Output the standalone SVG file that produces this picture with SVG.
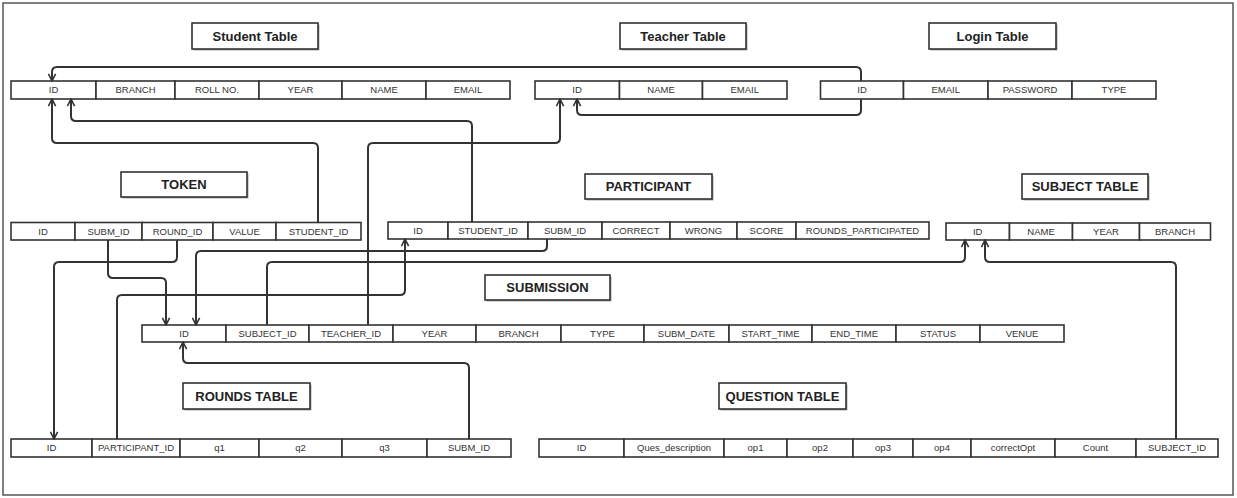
<svg xmlns="http://www.w3.org/2000/svg" width="1237" height="498" viewBox="0 0 1237 498">
<style>
.bg{fill:#fff}
.frame{fill:#fff;stroke:#555;stroke-width:1.5}
.c{fill:#fff;stroke:#333;stroke-width:1.6}
.sh{fill:#aaa}
.t{font-family:"Liberation Sans",Arial,sans-serif;font-size:9.5px;fill:#333;text-anchor:middle}
.h{font-family:"Liberation Sans",Arial,sans-serif;font-size:13px;font-weight:bold;fill:#222;text-anchor:middle}
.tb{fill:#fff;stroke:#333;stroke-width:1.6}
.e{fill:none;stroke:#333;stroke-width:2;marker-end:url(#arr)}
</style>
<defs>
<marker id="arr" viewBox="0 0 10 10" refX="9" refY="5" markerWidth="9" markerHeight="9" markerUnits="userSpaceOnUse" orient="auto">
<path d="M1,1 L9,5 L1,9" fill="none" stroke="#333" stroke-width="1.8"/>
</marker>
</defs>
<rect class="bg" x="0" y="0" width="1237" height="498"/>
<rect class="frame" x="3" y="3" width="1230" height="492"/>

<g id="titles">
<g id="title-student"><rect class="sh" x="193.5" y="24.5" width="126" height="26"/><rect class="tb" x="192" y="23" width="126" height="26"/><text class="h" x="255" y="40.5">Student Table</text></g>
<g id="title-teacher"><rect class="sh" x="621.5" y="24.5" width="126" height="26"/><rect class="tb" x="620" y="23" width="126" height="26"/><text class="h" x="683" y="40.5">Teacher Table</text></g>
<g id="title-login"><rect class="sh" x="930.5" y="24.5" width="127" height="26"/><rect class="tb" x="929" y="23" width="127" height="26"/><text class="h" x="992.5" y="40.5">Login Table</text></g>
<g id="title-token"><rect class="sh" x="122.5" y="173.5" width="126" height="25"/><rect class="tb" x="121" y="172" width="126" height="25"/><text class="h" x="184" y="189">TOKEN</text></g>
<g id="title-participant"><rect class="sh" x="586.5" y="175.5" width="127" height="25"/><rect class="tb" x="585" y="174" width="127" height="25"/><text class="h" x="648.5" y="191">PARTICIPANT</text></g>
<g id="title-subject"><rect class="sh" x="1023.5" y="175.5" width="126" height="25"/><rect class="tb" x="1022" y="174" width="126" height="25"/><text class="h" x="1085" y="191">SUBJECT TABLE</text></g>
<g id="title-submission"><rect class="sh" x="486.5" y="276.5" width="125" height="25"/><rect class="tb" x="485" y="275" width="125" height="25"/><text class="h" x="547.5" y="292">SUBMISSION</text></g>
<g id="title-rounds"><rect class="sh" x="184.5" y="384.5" width="127" height="26"/><rect class="tb" x="183" y="383" width="127" height="26"/><text class="h" x="246.5" y="400.5">ROUNDS TABLE</text></g>
<g id="title-question"><rect class="sh" x="720.5" y="384.5" width="127" height="26"/><rect class="tb" x="719" y="383" width="127" height="26"/><text class="h" x="782.5" y="400.5">QUESTION TABLE</text></g>
</g>

<g id="student">
<rect class="c" x="11" y="81" width="85" height="18"/><text class="t" x="53.5" y="93.3">ID</text>
<rect class="c" x="96" y="81" width="79" height="18"/><text class="t" x="135.5" y="93.3">BRANCH</text>
<rect class="c" x="175" y="81" width="84" height="18"/><text class="t" x="217" y="93.3">ROLL NO.</text>
<rect class="c" x="259" y="81" width="83" height="18"/><text class="t" x="300.5" y="93.3">YEAR</text>
<rect class="c" x="342" y="81" width="84" height="18"/><text class="t" x="384" y="93.3">NAME</text>
<rect class="c" x="426" y="81" width="84" height="18"/><text class="t" x="468" y="93.3">EMAIL</text>
</g>

<g id="teacher">
<rect class="c" x="535" y="81" width="84.5" height="18"/><text class="t" x="577" y="93.3">ID</text>
<rect class="c" x="619.5" y="81" width="83" height="18"/><text class="t" x="661" y="93.3">NAME</text>
<rect class="c" x="702.5" y="81" width="84.5" height="18"/><text class="t" x="744.7" y="93.3">EMAIL</text>
</g>

<g id="login">
<rect class="c" x="820.5" y="81" width="83" height="18"/><text class="t" x="862" y="93.3">ID</text>
<rect class="c" x="903.5" y="81" width="84.5" height="18"/><text class="t" x="945.7" y="93.3">EMAIL</text>
<rect class="c" x="988" y="81" width="84" height="18"/><text class="t" x="1030" y="93.3">PASSWORD</text>
<rect class="c" x="1072" y="81" width="84" height="18"/><text class="t" x="1114" y="93.3">TYPE</text>
</g>

<g id="token">
<rect class="c" x="11" y="222.5" width="64" height="17.5"/><text class="t" x="43" y="234.6">ID</text>
<rect class="c" x="75" y="222.5" width="67" height="17.5"/><text class="t" x="108.5" y="234.6">SUBM_ID</text>
<rect class="c" x="142" y="222.5" width="71" height="17.5"/><text class="t" x="177.5" y="234.6">ROUND_ID</text>
<rect class="c" x="213" y="222.5" width="63" height="17.5"/><text class="t" x="244.5" y="234.6">VALUE</text>
<rect class="c" x="276" y="222.5" width="85" height="17.5"/><text class="t" x="318.5" y="234.6">STUDENT_ID</text>
</g>

<g id="participant">
<rect class="c" x="388" y="222" width="60" height="17"/><text class="t" x="418" y="233.8">ID</text>
<rect class="c" x="448" y="222" width="80" height="17"/><text class="t" x="488" y="233.8">STUDENT_ID</text>
<rect class="c" x="528" y="222" width="74" height="17"/><text class="t" x="565" y="233.8">SUBM_ID</text>
<rect class="c" x="602" y="222" width="68" height="17"/><text class="t" x="636" y="233.8">CORRECT</text>
<rect class="c" x="670" y="222" width="67" height="17"/><text class="t" x="703.5" y="233.8">WRONG</text>
<rect class="c" x="737" y="222" width="59" height="17"/><text class="t" x="766.5" y="233.8">SCORE</text>
<rect class="c" x="796" y="222" width="133" height="17"/><text class="t" x="862.5" y="233.8">ROUNDS_PARTICIPATED</text>
</g>

<g id="subject">
<rect class="c" x="946" y="223" width="63.5" height="17"/><text class="t" x="977.7" y="234.8">ID</text>
<rect class="c" x="1009.5" y="223" width="63" height="17"/><text class="t" x="1041" y="234.8">NAME</text>
<rect class="c" x="1072.5" y="223" width="67" height="17"/><text class="t" x="1106" y="234.8">YEAR</text>
<rect class="c" x="1139.5" y="223" width="71" height="17"/><text class="t" x="1175" y="234.8">BRANCH</text>
</g>

<g id="submission">
<rect class="c" x="142" y="325" width="84" height="17"/><text class="t" x="184" y="336.8">ID</text>
<rect class="c" x="226" y="325" width="83" height="17"/><text class="t" x="267.5" y="336.8">SUBJECT_ID</text>
<rect class="c" x="309" y="325" width="84" height="17"/><text class="t" x="351" y="336.8">TEACHER_ID</text>
<rect class="c" x="393" y="325" width="83" height="17"/><text class="t" x="434.5" y="336.8">YEAR</text>
<rect class="c" x="476" y="325" width="85" height="17"/><text class="t" x="518.5" y="336.8">BRANCH</text>
<rect class="c" x="561" y="325" width="83" height="17"/><text class="t" x="602.5" y="336.8">TYPE</text>
<rect class="c" x="644" y="325" width="85" height="17"/><text class="t" x="686.5" y="336.8">SUBM_DATE</text>
<rect class="c" x="729" y="325" width="83" height="17"/><text class="t" x="770.5" y="336.8">START_TIME</text>
<rect class="c" x="812" y="325" width="84" height="17"/><text class="t" x="854" y="336.8">END_TIME</text>
<rect class="c" x="896" y="325" width="84" height="17"/><text class="t" x="938" y="336.8">STATUS</text>
<rect class="c" x="980" y="325" width="84" height="17"/><text class="t" x="1022" y="336.8">VENUE</text>
</g>

<g id="rounds">
<rect class="c" x="11" y="439" width="81" height="18"/><text class="t" x="51.5" y="451.3">ID</text>
<rect class="c" x="92" y="439" width="88" height="18"/><text class="t" x="136" y="451.3">PARTICIPANT_ID</text>
<rect class="c" x="180" y="439" width="79" height="18"/><text class="t" x="219.5" y="451.3">q1</text>
<rect class="c" x="259" y="439" width="83" height="18"/><text class="t" x="300.5" y="451.3">q2</text>
<rect class="c" x="342" y="439" width="85" height="18"/><text class="t" x="384.5" y="451.3">q3</text>
<rect class="c" x="427" y="439" width="84" height="18"/><text class="t" x="469" y="451.3">SUBM_ID</text>
</g>

<g id="question">
<rect class="c" x="539" y="439" width="85" height="18"/><text class="t" x="581.5" y="451.3">ID</text>
<rect class="c" x="624" y="439" width="100" height="18"/><text class="t" x="674" y="451.3">Ques_description</text>
<rect class="c" x="724" y="439" width="63" height="18"/><text class="t" x="755.5" y="451.3">op1</text>
<rect class="c" x="787" y="439" width="66" height="18"/><text class="t" x="820" y="451.3">op2</text>
<rect class="c" x="853" y="439" width="60" height="18"/><text class="t" x="883" y="451.3">op3</text>
<rect class="c" x="913" y="439" width="58" height="18"/><text class="t" x="942" y="451.3">op4</text>
<rect class="c" x="971" y="439" width="84" height="18"/><text class="t" x="1013" y="451.3">correctOpt</text>
<rect class="c" x="1055" y="439" width="81" height="18"/><text class="t" x="1095.5" y="451.3">Count</text>
<rect class="c" x="1136" y="439" width="82" height="18"/><text class="t" x="1177" y="451.3">SUBJECT_ID</text>
</g>

<g id="connectors">
<path class="e" d="M861,81 V72 Q861,67 856,67 H57 Q52,67 52,72 V81"/>
<path class="e" d="M861,99 V110 Q861,115 856,115 H582 Q577,115 577,110 V99"/>
<path class="e" d="M368,325 V148 Q368,143 373,143 H555 Q560,143 560,138 V99"/>
<path class="e" d="M318,222.5 V148 Q318,143 313,143 H57 Q52,143 52,138 V99"/>
<path class="e" d="M472,222 V126 Q472,121 467,121 H76 Q71,121 71,116 V99"/>
<path class="e" d="M108,240 V273 Q108,278 113,278 H161 Q166,278 166,283 V325"/>
<path class="e" d="M177,240 V257 Q177,262 172,262 H59 Q54,262 54,267 V439"/>
<path class="e" d="M547,239 V246 Q547,251 542,251 H201 Q196,251 196,256 V325"/>
<path class="e" d="M267,325 V267 Q267,262 272,262 H960 Q965,262 965,257 V240"/>
<path class="e" d="M117,439 V300 Q117,295 122,295 H400 Q405,295 405,290 V239"/>
<path class="e" d="M1176,439 V267 Q1176,262 1171,262 H990 Q985,262 985,257 V240"/>
<path class="e" d="M469,439 V368 Q469,363 464,363 H188 Q183,363 183,358 V342"/>
</g>
</svg>
